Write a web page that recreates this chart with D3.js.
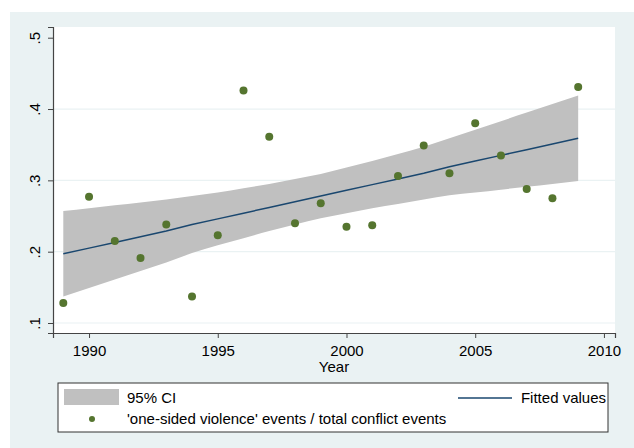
<!DOCTYPE html>
<html>
<head>
<meta charset="utf-8">
<script src="https://cdn.jsdelivr.net/npm/d3@7"></script>
<style>
  body { margin: 0; background: #fff; }
  text { font-family: "Liberation Sans", Arial, sans-serif; fill: #000; }
</style>
</head>
<body>
<div id="vis"></div>
<script>
var years = [1989, 1990, 1991, 1992, 1993, 1994, 1995, 1996, 1997, 1998, 1999,
             2000, 2001, 2002, 2003, 2004, 2005, 2006, 2007, 2008, 2009];
// share of one-sided violence events
var share = [0.128, 0.277, 0.215, 0.191, 0.238, 0.137, 0.223, 0.426, 0.361, 0.240, 0.268,
             0.235, 0.237, 0.306, 0.349, 0.310, 0.380, 0.335, 0.288, 0.275, 0.431];
var fitted = [0.197, 0.205, 0.213, 0.221, 0.229, 0.238, 0.246, 0.254, 0.262, 0.270, 0.278,
              0.286, 0.294, 0.302, 0.310, 0.319, 0.327, 0.335, 0.343, 0.351, 0.359];
var ciUpper = [0.257, 0.261, 0.265, 0.269, 0.273, 0.278, 0.283, 0.289, 0.295, 0.302, 0.309,
               0.318, 0.327, 0.337, 0.347, 0.359, 0.371, 0.383, 0.395, 0.407, 0.419];
var ciLower = [0.137, 0.149, 0.161, 0.173, 0.185, 0.198, 0.209, 0.219, 0.229, 0.238, 0.247,
               0.254, 0.261, 0.267, 0.273, 0.279, 0.283, 0.287, 0.291, 0.295, 0.299];
var xTicks = [1990, 1995, 2000, 2005, 2010];
var yTicks = [0.1, 0.2, 0.3, 0.4, 0.5];
var yTickLabels = [".1", ".2", ".3", ".4", ".5"];
var legendLabels = ["95% CI", "Fitted values", "'one-sided violence' events / total conflict events"];

var width = 634, height = 448;
var plot = {left: 53, right: 615, top: 27, bottom: 333};

var svg = d3.select("#vis").append("svg")
  .attr("width", width)
  .attr("height", height);

// outer graph region
svg.append("rect")
  .attr("x", 10).attr("y", 12)
  .attr("width", width - 10).attr("height", height - 12)
  .attr("fill", "#EAF2F3");

svg.append("rect")
  .attr("x", plot.left).attr("y", plot.top)
  .attr("width", plot.right - plot.left).attr("height", plot.bottom - plot.top)
  .attr("fill", "#fff");

var xScale = d3.scaleLinear()
  .domain([1988.6, 2010.43])
  .range([plot.left, plot.right]);

var yScale = d3.scaleLinear()
  .domain([0.086, 0.515])
  .range([plot.bottom, plot.top]);

// gridlines
svg.append("g")
  .selectAll("line")
  .data(yTicks.slice(0, 4))
  .enter().append("line")
    .attr("x1", plot.left).attr("x2", plot.right)
    .attr("y1", function(d) { return yScale(d); })
    .attr("y2", function(d) { return yScale(d); })
    .attr("stroke", "#EAF2F3")
    .attr("stroke-width", 1.2);

var data = years.map(function(y, i) {
  return {year: y, v: share[i], fit: fitted[i], lo: ciLower[i], hi: ciUpper[i]};
});

var band = d3.area()
  .curve(d3.curveMonotoneX)
  .x(function(d) { return xScale(d.year); })
  .y0(function(d) { return yScale(d.lo); })
  .y1(function(d) { return yScale(d.hi); });

svg.append("path")
  .datum(data)
  .attr("d", band)
  .attr("fill", "#C0C0C0");

var line = d3.line()
  .x(function(d) { return xScale(d.year); })
  .y(function(d) { return yScale(d.fit); });

svg.append("path")
  .datum(data)
  .attr("d", line)
  .attr("fill", "none")
  .attr("stroke", "#1A476F")
  .attr("stroke-width", 1.5);

svg.append("g")
  .selectAll("circle")
  .data(data)
  .enter().append("circle")
    .attr("cx", function(d) { return xScale(d.year); })
    .attr("cy", function(d) { return yScale(d.v); })
    .attr("r", 4)
    .attr("fill", "#55752F");

// x axis
var xAxis = svg.append("g")
  .attr("transform", "translate(0," + plot.bottom + ")")
  .call(d3.axisBottom(xScale)
    .tickValues(xTicks)
    .tickFormat(d3.format("d"))
    .tickSizeOuter(0)
    .tickSize(5)
    .tickPadding(7));
xAxis.select(".domain").attr("stroke", "#444").attr("stroke-width", 1.2);
xAxis.selectAll(".tick line").attr("stroke", "#444");
xAxis.selectAll("text")
  .style("font-size", "15px")
  .style("font-family", "Liberation Sans, Arial, sans-serif")
  .attr("fill", "#000");

// y axis
var yAxis = svg.append("g")
  .attr("transform", "translate(" + plot.left + ",0)")
  .call(d3.axisLeft(yScale)
    .tickValues(yTicks)
    .tickFormat(function(d, i) { return yTickLabels[i]; })
    .tickSizeOuter(0)
    .tickSize(5));
yAxis.select(".domain").attr("stroke", "#444").attr("stroke-width", 1.2);
yAxis.selectAll(".tick line").attr("stroke", "#444");
yAxis.selectAll("text")
  .attr("x", null).attr("dy", null)
  .attr("transform", "translate(-13,0) rotate(-90)")
  .attr("text-anchor", "middle")
  .style("font-size", "15px")
  .style("font-family", "Liberation Sans, Arial, sans-serif")
  .attr("fill", "#000");

svg.append("text")
  .attr("x", (plot.left + plot.right) / 2)
  .attr("y", 372)
  .attr("text-anchor", "middle")
  .style("font-size", "15px")
  .text("Year");

// legend
var legend = svg.append("g");
legend.append("rect")
  .attr("x", 58).attr("y", 383)
  .attr("width", 550).attr("height", 49)
  .attr("fill", "#fff")
  .attr("stroke", "#333")
  .attr("stroke-width", 1);

legend.append("rect")
  .attr("x", 64).attr("y", 389)
  .attr("width", 55).attr("height", 16)
  .attr("fill", "#C0C0C0");

legend.append("text")
  .attr("x", 127).attr("y", 403)
  .style("font-size", "15px")
  .text(legendLabels[0]);

legend.append("line")
  .attr("x1", 458).attr("x2", 512)
  .attr("y1", 398).attr("y2", 398)
  .attr("stroke", "#1A476F")
  .attr("stroke-width", 1.5);

legend.append("text")
  .attr("x", 606).attr("y", 403)
  .attr("text-anchor", "end")
  .style("font-size", "15px")
  .text(legendLabels[1]);

legend.append("circle")
  .attr("cx", 92).attr("cy", 419)
  .attr("r", 3)
  .attr("fill", "#55752F");

legend.append("text")
  .attr("x", 127).attr("y", 424)
  .style("font-size", "15px")
  .text(legendLabels[2]);
</script>
</body>
</html>
